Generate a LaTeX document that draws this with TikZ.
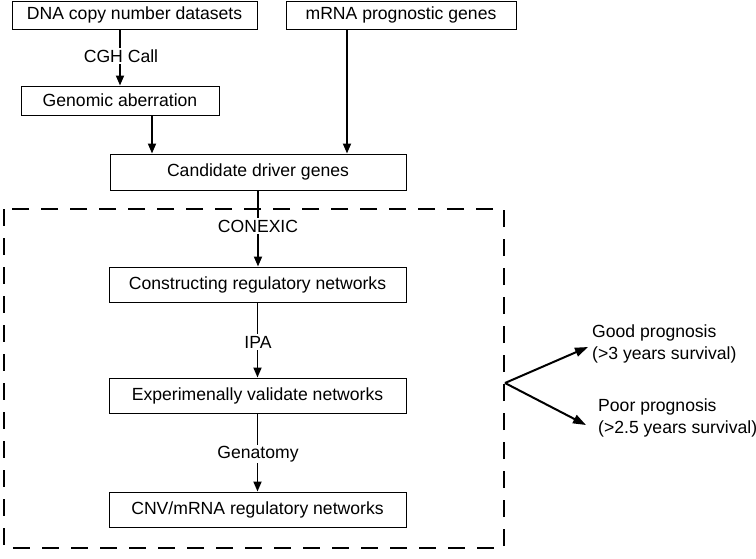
\documentclass[tikz,border=0pt]{standalone}
\usepackage{fontspec}
\setmainfont{Liberation Sans}
\usetikzlibrary{arrows.meta}
\begin{document}
\begin{tikzpicture}[x=1pt,y=-1pt,
  font=\fontsize{17.6}{22}\selectfont,
  box/.style={draw,line width=1pt,inner sep=0pt,minimum height=#1},
  box/.default=35pt,
  arr/.style={line width=1.8pt,-{Triangle[length=10pt,width=8pt]}},
  lbl/.style={fill=white,inner sep=1.5pt},
  dashbox/.style={line width=2.4pt,dash pattern=on 17pt off 12pt},
  branch/.style={line width=2pt,-{Triangle[length=13pt,width=9pt]}}]
\useasboundingbox (0,0) rectangle (756,558);
% boxes
\node[box=28pt,minimum width=245pt] (dna) at (134.5,15) {DNA copy number datasets};
\node[box=28pt,minimum width=230pt] (mrna) at (401,15) {mRNA prognostic genes};
\node[box=29pt,minimum width=198pt] (gen) at (120,100.5) {Genomic aberration};
\node[box=36pt,minimum width=296pt] (cand) at (258,172) {Candidate driver genes};
\node[box,minimum width=297pt] (cons) at (257.5,284.5) {Constructing regulatory networks};
\node[box,minimum width=297pt] (exp) at (257.5,395.5) {Experimenally validate networks};
\node[box,minimum width=297pt] (cnv) at (257.5,509.5) {CNV/mRNA regulatory networks};
% dashed frame
\draw[dashbox] (4,209) rectangle (504,548);
% arrows
\draw[arr] (dna.south -| gen.center) -- (gen.north);
\draw[arr] ([xshift=32pt]gen.south) -- ([xshift=32pt]gen.south |- cand.north);
\draw[arr] ([xshift=-54pt]mrna.south) -- ([xshift=-54pt]mrna.south |- cand.north);
\draw[arr] (cand.south) -- (cand.south |- cons.north);
\draw[arr] (cons.south) -- (exp.north);
\draw[arr] (exp.south) -- (cnv.north);
% labels
\node[lbl] (l1) at (121,56) {CGH Call};
\node[lbl] (l2) at (258,226) {CONEXIC};
\node[lbl] (l3) at (258,342) {IPA};
\node[lbl] (l4) at (258,454) {Genatomy};
% outcomes
\coordinate (br) at (505,383);
\node[anchor=west,align=left,inner sep=0pt] (good) at (592,344) {Good prognosis\\(>3 years survival)};
\node[anchor=west,align=left,inner sep=0pt] (poor) at (598,418) {Poor prognosis\\(>2.5 years survival)};
\draw[branch] (br) -- (588,347);
\draw[branch] (br) -- (586,425);
\end{tikzpicture}
\end{document}
